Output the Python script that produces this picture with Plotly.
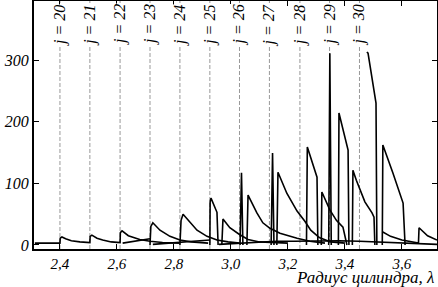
import plotly.graph_objects as go

# ---- data ----
j_values = [20, 21, 22, 23, 24, 25, 26, 27, 28, 29, 30]
j_lambda = [2.400, 2.505, 2.611, 2.716, 2.821, 2.926, 3.030, 3.135, 3.242, 3.346, 3.451]

x_ticks = [2.4, 2.6, 2.8, 3.0, 3.2, 3.4, 3.6]
x_tick_labels = ["2,4", "2,6", "2,8", "3,0", "3,2", "3,4", "3,6"]
y_ticks = [0, 100, 200, 300]
y_tick_labels = ["0", "100", "200", "300"]

# main sawtooth family (teeth rising at the j lines)
teeth_x = [2.312, 2.400, 2.401, 2.407, 2.42, 2.44, 2.47, 2.505,
           2.506, 2.512, 2.53, 2.55, 2.58, 2.611,
           2.612, 2.618, 2.64, 2.68, 2.716, 2.76, 2.82, None,
           2.716, 2.719, 2.726, 2.751, 2.786, 2.821, 2.86, 2.92, None,
           2.821, 2.825, 2.832, 2.856, 2.881, 2.916, 2.951, 2.99, 3.03, None,
           2.926, 2.927, 2.930, 2.951, 2.955, None,
           2.968, 2.972, 2.996, 3.03, 3.06, 3.10, 3.20, None,
           3.056, 3.060, 3.091, 3.112, 3.137, 3.172, 3.232, 3.277, 3.33, None,
           3.161, 3.165, 3.196, 3.232, 3.26, 3.28, 3.31, 3.35, 3.40, None,
           3.265, 3.268, 3.302, 3.305, None,
           3.317, 3.319, 3.347, 3.37, 3.393, 3.407, None,
           3.377, 3.379, 3.411, 3.414, None,
           3.426, 3.428, 3.44, 3.453, 3.47, 3.495, 3.502, 3.505, None,
           3.477, 3.481, 3.509, 3.512, None,
           3.531, 3.533, 3.568, 3.604, 3.611]
teeth_y = [3, 3, 11, 13, 10, 7, 5, 4,
           14, 16, 11, 8, 5, 4,
           20, 23, 15, 9, 6, 4, 3, None,
           0, 30, 36, 24, 14, 8, 5, 3, None,
           0, 40, 50, 37, 24, 14, 8, 5, 3, None,
           0, 70, 76, 53, 0, None,
           0, 42, 28, 17, 9, 5, 3, None,
           0, 81, 52, 36, 27, 19, 11, 6, 3, None,
           0, 118, 84, 55, 38, 24, 12, 5, 3, None,
           0, 159, 110, 0, None,
           0, 86, 57, 40, 29, 0, None,
           0, 214, 154, 0, None,
           0, 121, 105, 89, 70, 52, 45, 0, None,
           313, 311, 230, 0, None,
           0, 162, 117, 68, 0]

# narrow resonance spikes
spike_x = [3.032, 3.037, 3.042, None, 3.141, 3.146, 3.151, None,
           3.343, 3.347, 3.352]
spike_y = [0, 117, 0, None, 0, 149, 0, None,
           0, 311, 0]

# low-lying curves near the axis
low_x = [2.620, 2.66, 2.70, 2.716, None,
         2.726, 2.78, 2.84, 2.90, 2.926, None,
         2.958, 3.03, 3.10, 3.16, 3.22, 3.30, 3.38, 3.45, 3.52, 3.60, 3.66, 3.723, None,
         3.533, 3.56, 3.60, 3.646, 3.658, 3.660, 3.69, 3.723]
low_y = [3, 6, 9, 10, None,
         1, 3, 5, 7, 8, None,
         1, 3, 5, 6, 6, 7, 7, 6, 5, 3, 2, 1, None,
         21, 14, 8, 4, 3, 28, 15, 8]

serif = "Liberation Serif, Times New Roman, serif"

fig = go.Figure()
for xs, ys in [(teeth_x, teeth_y), (spike_x, spike_y), (low_x, low_y)]:
    fig.add_trace(go.Scatter(x=xs, y=ys, mode="lines",
                             line=dict(color="black", width=1.6),
                             connectgaps=False, hoverinfo="skip"))

for j, lam in zip(j_values, j_lambda):
    fig.add_shape(type="line", xref="x", yref="paper", x0=lam, x1=lam, y0=0, y1=1,
                  line=dict(color="#999999", width=1, dash="4px,2px"), layer="below")
    fig.add_annotation(x=lam, xref="x", y=1, yref="paper", yanchor="middle", xanchor="center",
                       yshift=-24, text=f"<i>j = {j}</i>", textangle=-90, showarrow=False,
                       bgcolor="white", borderpad=0,
                       font=dict(family=serif, size=16, color="black"))

fig.add_annotation(x=1, xref="paper", y=0, yref="paper", xanchor="right", yanchor="top",
                   yshift=-17, text="<i>Радиус цилиндра, λ</i>", showarrow=False,
                   font=dict(family=serif, size=17, color="black"))

axis_common = dict(showline=True, linewidth=2, linecolor="black", mirror="ticks",
                   ticks="inside", ticklen=5, tickwidth=1, tickcolor="black",
                   showgrid=False, zeroline=False, automargin=False)

fig.update_xaxes(range=[2.309, 3.723], tickvals=x_ticks,
                 ticktext=[f"<i>{t}</i>" for t in x_tick_labels],
                 tickfont=dict(family=serif, size=15, color="black"), **axis_common)
fig.update_yaxes(range=[-6.5, 395.7], tickvals=y_ticks,
                 ticktext=[f"<i>{t}</i>" for t in y_tick_labels],
                 tickfont=dict(family=serif, size=16, color="black"), **axis_common)

fig.update_layout(width=438, height=287, margin=dict(l=34, r=1, t=1, b=38),
                  plot_bgcolor="white", paper_bgcolor="white", showlegend=False,
                  font=dict(family=serif))

fig.write_html("out.html", config={"displayModeBar": False},
               post_script="document.body.style.margin='0';document.body.style.padding='0';")
